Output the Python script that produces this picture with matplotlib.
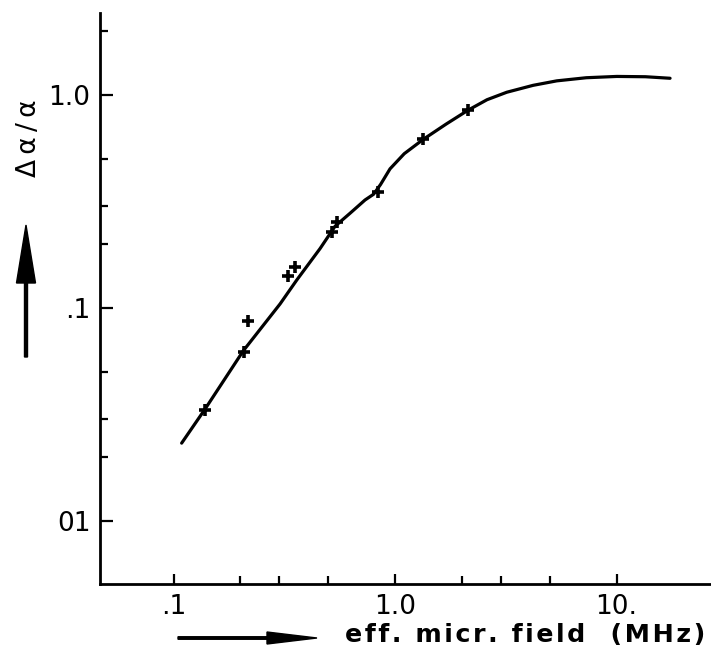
import matplotlib
matplotlib.use("Agg")
import matplotlib.pyplot as plt
from matplotlib.ticker import FixedLocator, FixedFormatter, NullFormatter
from matplotlib.patches import FancyArrow
from matplotlib.transforms import IdentityTransform

# Data
pts_x = [0.139, 0.207, 0.216, 0.327, 0.354, 0.518, 0.545, 0.841, 1.342, 2.142]
pts_y = [0.0332, 0.0624, 0.0872, 0.1418, 0.1552, 0.2282, 0.2542, 0.3516, 0.6195, 0.850]

curve_x = [0.1088, 0.1387, 0.2066, 0.3027, 0.360, 0.4585, 0.536, 0.626, 0.732,
           0.800, 0.860, 0.949, 1.10, 1.342, 1.70, 2.142, 2.60, 3.193, 4.2, 5.37,
           7.3, 10.02, 13.5, 17.43]
curve_y = [0.0232, 0.0335, 0.0630, 0.1045, 0.1353, 0.1900, 0.2420, 0.2783, 0.3214,
           0.3420, 0.3800, 0.4500, 0.5300, 0.6195, 0.730, 0.850, 0.950, 1.030, 1.110, 1.165,
           1.205, 1.222, 1.218, 1.198]

xticks = [0.1, 1.0, 10.0]
xticklabels = [".1", "1.0", "10."]
xminor = [0.2, 0.3, 0.5, 2, 3, 5]
yticks = [0.01, 0.1, 1.0]
yticklabels = ["01", ".1", "1.0"]
yminor = [0.02, 0.03, 0.05, 0.2, 0.3, 0.5, 2]

fig = plt.figure(figsize=(7.11, 6.5), dpi=100)
ax = fig.add_axes([100/711, 66/650, 610/711, 571/650])
ax.set_xscale("log")
ax.set_yscale("log")
ax.set_xlim(0.04657, 26.4)
ax.set_ylim(0.00506, 2.426)

ax.plot(curve_x, curve_y, color="black", lw=2.3, solid_capstyle="round",
        solid_joinstyle="round")
ax.plot(pts_x, pts_y, ls="none", marker="+", ms=9, mew=2.6, color="black")

for s in ["top", "right"]:
    ax.spines[s].set_visible(False)
for s in ["left", "bottom"]:
    ax.spines[s].set_linewidth(2.0)

ax.xaxis.set_major_locator(FixedLocator(xticks))
ax.xaxis.set_major_formatter(FixedFormatter(xticklabels))
ax.xaxis.set_minor_locator(FixedLocator(xminor))
ax.xaxis.set_minor_formatter(NullFormatter())
ax.yaxis.set_major_locator(FixedLocator(yticks))
ax.yaxis.set_major_formatter(FixedFormatter(yticklabels))
ax.yaxis.set_minor_locator(FixedLocator(yminor))
ax.yaxis.set_minor_formatter(NullFormatter())

ax.tick_params(which="major", direction="in", length=9, width=1.6, labelsize=19, pad=7)
ax.tick_params(axis="x", which="major", length=7)
ax.tick_params(which="minor", direction="in", length=6, width=1.6)

ylab = "\u2009".join("Δα/α")
xlab = "\u200a".join("eff. micr. field  (MHz)")
fig.text(29/711, 512/650, ylab, rotation=90, ha="center", va="center", fontsize=19)
t = fig.text(345/711, 15/650, xlab, ha="left", va="center", fontsize=17,
             fontweight="bold")

# fit the x label between x=345 and x=706 px
fig.canvas.draw()
bb = t.get_window_extent()
t.set_fontsize(17 * (706 - 345) / (bb.x1 - 345))

fig.add_artist(FancyArrow(26, 293, 0, 132, width=3, head_width=19, head_length=58,
                          length_includes_head=True, color="black",
                          transform=IdentityTransform()))
fig.add_artist(FancyArrow(178, 12, 139, 0, width=2.5, head_width=12, head_length=50,
                          length_includes_head=True, color="black",
                          transform=IdentityTransform()))

fig.savefig("out.png", dpi=100)
